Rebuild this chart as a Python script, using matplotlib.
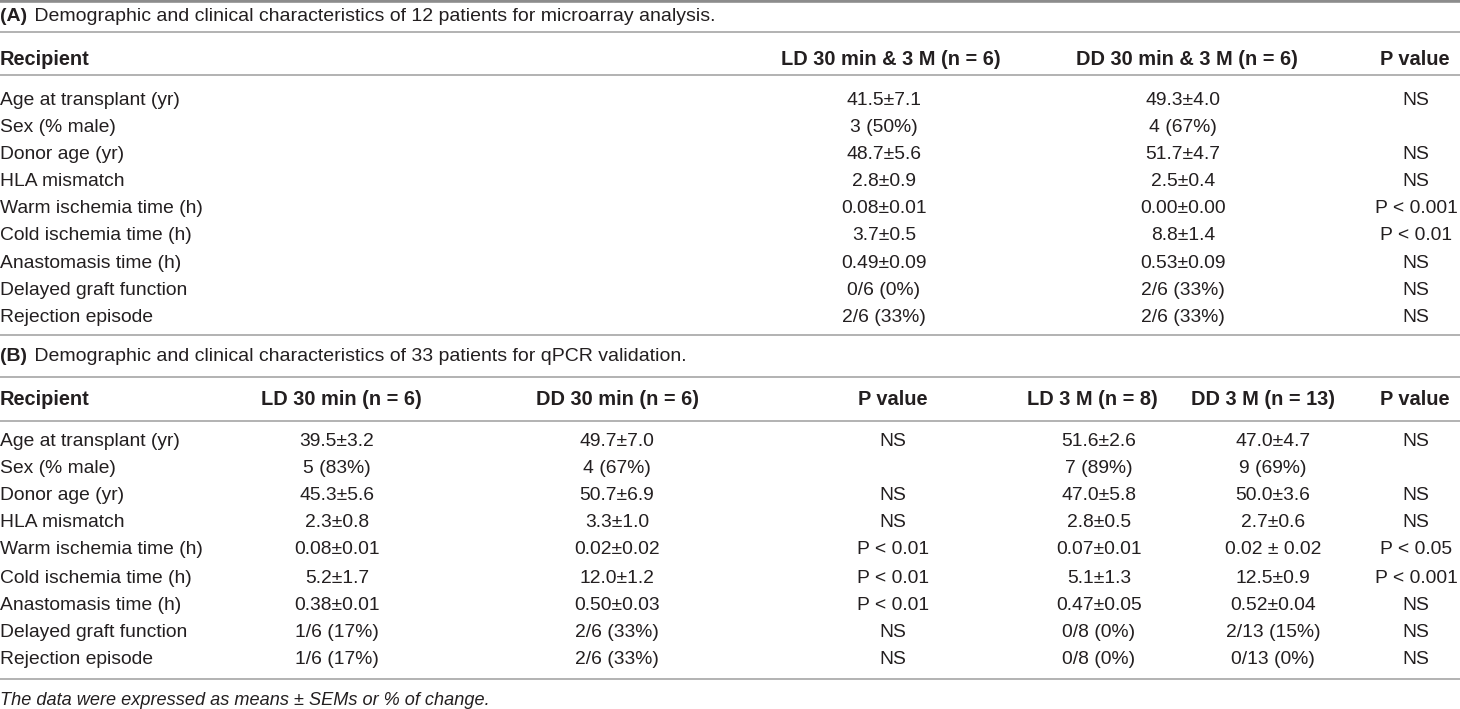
import matplotlib
matplotlib.use("Agg")
import matplotlib.pyplot as plt

plt.rcParams['font.family'] = ['Liberation Sans', 'DejaVu Sans']

# ---------------- data ----------------
row_labels = ["Age at transplant (yr)", "Sex (% male)", "Donor age (yr)", "HLA mismatch",
              "Warm ischemia time (h)", "Cold ischemia time (h)", "Anastomasis time (h)",
              "Delayed graft function", "Rejection episode"]

title_a = "Demographic and clinical characteristics of 12 patients for microarray analysis."
headers_a = ["Recipient", "LD 30 min & 3 M (n = 6)", "DD 30 min & 3 M (n = 6)", "P value"]
ld_a = ["41.5±7.1", "3 (50%)", "48.7±5.6", "2.8±0.9", "0.08±0.01", "3.7±0.5", "0.49±0.09", "0/6 (0%)", "2/6 (33%)"]
dd_a = ["49.3±4.0", "4 (67%)", "51.7±4.7", "2.5±0.4", "0.00±0.00", "8.8±1.4", "0.53±0.09", "2/6 (33%)", "2/6 (33%)"]
p_a = ["NS", "", "NS", "NS", "P < 0.001", "P < 0.01", "NS", "NS", "NS"]

title_b = "Demographic and clinical characteristics of 33 patients for qPCR validation."
headers_b = ["Recipient", "LD 30 min (n = 6)", "DD 30 min (n = 6)", "P value",
             "LD 3 M (n = 8)", "DD 3 M (n = 13)", "P value"]
ld30_b = ["39.5±3.2", "5 (83%)", "45.3±5.6", "2.3±0.8", "0.08±0.01", "5.2±1.7", "0.38±0.01", "1/6 (17%)", "1/6 (17%)"]
dd30_b = ["49.7±7.0", "4 (67%)", "50.7±6.9", "3.3±1.0", "0.02±0.02", "12.0±1.2", "0.50±0.03", "2/6 (33%)", "2/6 (33%)"]
p30_b = ["NS", "", "NS", "NS", "P < 0.01", "P < 0.01", "P < 0.01", "NS", "NS"]
ld3_b = ["51.6±2.6", "7 (89%)", "47.0±5.8", "2.8±0.5", "0.07±0.01", "5.1±1.3", "0.47±0.05", "0/8 (0%)", "0/8 (0%)"]
dd3_b = ["47.0±4.7", "9 (69%)", "50.0±3.6", "2.7±0.6", "0.02 ± 0.02", "12.5±0.9", "0.52±0.04", "2/13 (15%)", "0/13 (0%)"]
p3_b = ["NS", "", "NS", "NS", "P < 0.05", "P < 0.001", "NS", "NS", "NS"]

footnote = "The data were expressed as means ± SEMs or % of change."

# ---------------- layout ----------------
W, H = 1460, 709
fig = plt.figure(figsize=(W / 100, H / 100), dpi=100)
ax = fig.add_axes([0, 0, 1, 1])
ax.set_xlim(0, W)
ax.set_ylim(H, 0)
ax.axis('off')

FS = 13.9      # body
FSH = 14.4     # column headers
FST = 14.0     # section titles
TXT = '#231f20'
LINE = '#a6a6a6'
DY = 2.5       # baseline nudge

def hline(y, lw=1.2, color=LINE):
    ax.plot([0, W], [y, y], color=color, lw=lw, solid_capstyle='butt')

def txt(x, y, s, **kw):
    ax.text(x, y + DY, s, color=TXT, va='center', **kw)

# top rule
hline(1.2, lw=2.6, color='#8c8c8c')

# ---- section A ----
txt(0, 14, "(A)", fontsize=FST, fontweight='bold', ha='left')
txt(29, 14, " " + title_a, fontsize=FST, ha='left')
hline(32)

hdr_a_x = [0, 891, 1187, 1415]
hdr_a_ha = ['left', 'center', 'center', 'center']
for h, x, ha in zip(headers_a, hdr_a_x, hdr_a_ha):
    txt(x, 57, h, fontsize=FSH, fontweight='bold', ha=ha)
hline(75)

row_y_a = [98, 125, 152, 179, 206, 233, 261, 288, 315]
col_a_x = [884, 1183, 1416]
for i, y in enumerate(row_y_a):
    txt(0, y, row_labels[i], fontsize=FS, ha='left')
    for vals, x in zip([ld_a, dd_a, p_a], col_a_x):
        txt(x, y, vals[i], fontsize=FS, ha='center')
hline(335)

# ---- section B ----
txt(0, 354, "(B)", fontsize=FST, fontweight='bold', ha='left')
txt(29, 354, " " + title_b, fontsize=FST, ha='left')
hline(377)

hdr_b_x = [0, 341, 618, 893, 1092, 1263, 1415]
for j, (h, x) in enumerate(zip(headers_b, hdr_b_x)):
    txt(x, 397, h, fontsize=FSH, fontweight='bold', ha='left' if j == 0 else 'center')
hline(421)

row_y_b = [439, 466, 493, 520, 547, 576, 603, 630, 657]
col_b_x = [337, 617, 893, 1099, 1273, 1416]
for i, y in enumerate(row_y_b):
    txt(0, y, row_labels[i], fontsize=FS, ha='left')
    for vals, x in zip([ld30_b, dd30_b, p30_b, ld3_b, dd3_b, p3_b], col_b_x):
        txt(x, y, vals[i], fontsize=FS, ha='center')
hline(679)

txt(0, 698, footnote, fontsize=FS - 0.8, style='italic', ha='left')

fig.savefig("out.png", dpi=100, facecolor='white')
